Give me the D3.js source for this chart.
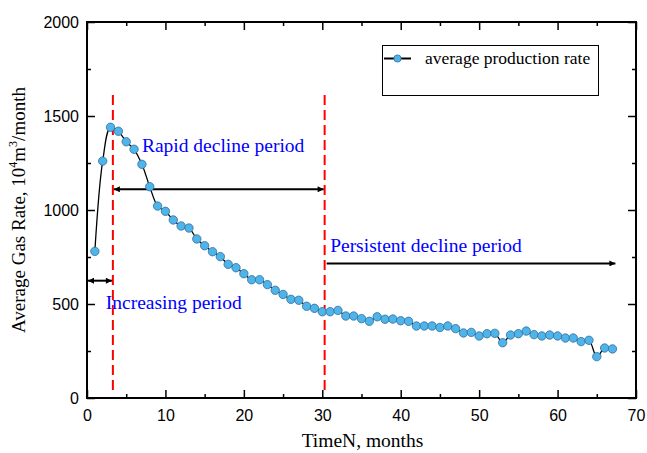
<!DOCTYPE html>
<html>
<head>
<meta charset="utf-8">
<script src="https://cdn.jsdelivr.net/npm/d3@7"></script>
<style>
  html, body { margin: 0; padding: 0; background: #fff; }
  svg { display: block; }
</style>
</head>
<body>
<svg id="chart" width="647" height="453"></svg>
<script>
// Monthly average gas production rate (10^4 m^3/month)
const months = [1,2,3,4,5,6,7,8,9,10,11,12,13,14,15,16,17,18,19,20,21,22,23,24,25,26,27,28,29,30,31,32,33,34,35,36,37,38,39,40,41,42,43,44,45,46,47,48,49,50,51,52,53,54,55,56,57,58,59,60,61,62,63,64,65,66,67];
const rates = [780,1260,1440,1419,1363,1323,1243,1124,1021,993,947,915,904,846,810,778,752,711,693,661,629,629,603,573,551,525,520,488,477,459,459,466,436,436,422,408,432,419,420,411,408,383,383,383,375,383,369,346,349,330,342,344,294,335,342,356,337,330,335,330,319,319,300,307,220,266,261];

// Axis settings
const xDomain = [0, 70];
const yDomain = [0, 2000];
const xMajorTicks = [0,10,20,30,40,50,60,70];
const xMinorTicks = [5,15,25,35,45,55,65];
const yMajorTicks = [0,500,1000,1500,2000];
const yMinorTicks = [250,750,1250,1750];

// Period boundaries (months) and annotation rows (rate values)
const boundaries = [3.3, 30.3];
const boundaryTop = 1612;
const increasingArrow = { from: 0, to: 3.3, at: 624 };
const rapidArrow = { from: 3.3, to: 30.3, at: 1110 };
const persistentArrow = { from: 30.3, to: 67.5, at: 716 };
const periodLabels = [
  { text: "Increasing period", t: 2.4, v: 473 },
  { text: "Rapid decline period", t: 7.0, v: 1307 },
  { text: "Persistent decline period", t: 31.0, v: 778 }
];

const svg = d3.select("#chart");
const plotLeft = 87, plotRight = 636, plotTop = 22, plotBottom = 398;

const x = d3.scaleLinear().domain(xDomain).range([plotLeft, plotRight]);
const y = d3.scaleLinear().domain(yDomain).range([plotBottom, plotTop]);

const serif = "'Liberation Serif', 'Times New Roman', serif";
const sans = "'Liberation Sans', Arial, sans-serif";

// Arrow markers
const defs = svg.append("defs");
defs.append("marker")
  .attr("id", "arrowEnd").attr("viewBox", "0 0 10 10")
  .attr("refX", 10).attr("refY", 5)
  .attr("markerWidth", 11).attr("markerHeight", 6)
  .attr("markerUnits", "userSpaceOnUse")
  .attr("orient", "auto")
  .append("path").attr("d", "M0,0 L10,5 L0,10 Z").attr("fill", "#000");
defs.append("marker")
  .attr("id", "arrowStart").attr("viewBox", "0 0 10 10")
  .attr("refX", 0).attr("refY", 5)
  .attr("markerWidth", 11).attr("markerHeight", 6)
  .attr("markerUnits", "userSpaceOnUse")
  .attr("orient", "auto")
  .append("path").attr("d", "M10,0 L0,5 L10,10 Z").attr("fill", "#000");

// Axes: ticks point inward on all four sides
function axisGroup(axis, transform) {
  const g = svg.append("g").attr("transform", transform).call(axis);
  g.select(".domain").remove();
  g.selectAll(".tick line").attr("stroke", "#000").attr("stroke-width", 1.5);
  return g;
}
const bottomMajor = d3.axisBottom(x).tickValues(xMajorTicks).tickSizeInner(-8).tickSizeOuter(0).tickPadding(12).tickFormat(d3.format("d"));
const gxb = axisGroup(bottomMajor, `translate(0,${plotBottom})`);
gxb.selectAll("text").attr("font-family", sans).attr("font-size", 16).attr("fill", "#000");
axisGroup(d3.axisBottom(x).tickValues(xMinorTicks).tickSizeInner(-4).tickSizeOuter(0).tickFormat(""), `translate(0,${plotBottom})`);
axisGroup(d3.axisTop(x).tickValues(xMajorTicks).tickSizeInner(-8).tickSizeOuter(0).tickFormat(""), `translate(0,${plotTop})`);
axisGroup(d3.axisTop(x).tickValues(xMinorTicks).tickSizeInner(-4).tickSizeOuter(0).tickFormat(""), `translate(0,${plotTop})`);

const leftMajor = d3.axisLeft(y).tickValues(yMajorTicks).tickSizeInner(-8).tickSizeOuter(0).tickPadding(8).tickFormat(d3.format("d"));
const gyl = axisGroup(leftMajor, `translate(${plotLeft},0)`);
gyl.selectAll("text").attr("font-family", sans).attr("font-size", 16).attr("fill", "#000");
axisGroup(d3.axisLeft(y).tickValues(yMinorTicks).tickSizeInner(-4).tickSizeOuter(0).tickFormat(""), `translate(${plotLeft},0)`);
axisGroup(d3.axisRight(y).tickValues(yMajorTicks).tickSizeInner(-8).tickSizeOuter(0).tickFormat(""), `translate(${plotRight},0)`);
axisGroup(d3.axisRight(y).tickValues(yMinorTicks).tickSizeInner(-4).tickSizeOuter(0).tickFormat(""), `translate(${plotRight},0)`);

// Frame
svg.append("rect")
  .attr("x", plotLeft).attr("y", plotTop)
  .attr("width", plotRight - plotLeft).attr("height", plotBottom - plotTop)
  .attr("fill", "none").attr("stroke", "#000").attr("stroke-width", 2);

// Axis titles
svg.append("text")
  .attr("x", (plotLeft + plotRight) / 2 + 1).attr("y", 447)
  .attr("text-anchor", "middle")
  .attr("font-family", serif).attr("font-size", 19.5)
  .text("TimeN, months");

const yTitle = svg.append("text")
  .attr("transform", `translate(25,210) rotate(-90)`)
  .attr("text-anchor", "middle")
  .attr("font-family", serif).attr("font-size", 19);
yTitle.append("tspan").text("Average Gas Rate, 10");
yTitle.append("tspan").attr("font-size", 12).attr("dy", -8).text("4");
yTitle.append("tspan").attr("dy", 8).text("m");
yTitle.append("tspan").attr("font-size", 12).attr("dy", -8).text("3");
yTitle.append("tspan").attr("dy", 8).text("/month");

// Period boundaries
svg.selectAll("line.boundary")
  .data(boundaries)
  .join("line")
  .attr("class", "boundary")
  .attr("x1", d => x(d)).attr("x2", d => x(d))
  .attr("y1", y(boundaryTop)).attr("y2", y(0) - 4)
  .attr("stroke", "#ff0000").attr("stroke-width", 2)
  .attr("stroke-dasharray", "10,5");

// Period arrows
function arrow(a, both) {
  const l = svg.append("line")
    .attr("x1", x(a.from) + (both ? 1 : 2)).attr("x2", x(a.to) - 1)
    .attr("y1", y(a.at)).attr("y2", y(a.at))
    .attr("stroke", "#000").attr("stroke-width", 2)
    .attr("marker-end", "url(#arrowEnd)");
  if (both) l.attr("marker-start", "url(#arrowStart)");
}
arrow(increasingArrow, true);
arrow(rapidArrow, true);
arrow(persistentArrow, false);

// Period labels
svg.selectAll("text.period")
  .data(periodLabels)
  .join("text")
  .attr("class", "period")
  .attr("x", d => x(d.t)).attr("y", d => y(d.v))
  .attr("font-family", serif).attr("font-size", 19.5)
  .attr("fill", "#0000ff")
  .text(d => d.text);

// Production curve
const pts = months.map((m, i) => [m, rates[i]]);
const line = d3.line()
  .x(d => x(d[0])).y(d => y(d[1]))
  .curve(d3.curveCatmullRom.alpha(0.5));
svg.append("path")
  .datum(pts)
  .attr("d", line)
  .attr("fill", "none").attr("stroke", "#000").attr("stroke-width", 1.3);

svg.selectAll("circle.pt")
  .data(pts)
  .join("circle")
  .attr("class", "pt")
  .attr("cx", d => x(d[0])).attr("cy", d => y(d[1]))
  .attr("r", 4.2)
  .attr("fill", "#4fb4ea").attr("stroke", "#2f6f9a").attr("stroke-width", 0.8);

// Legend
const lg = svg.append("g");
lg.append("rect")
  .attr("x", 382.5).attr("y", 45.5).attr("width", 216).attr("height", 50)
  .attr("fill", "#fff").attr("stroke", "#000").attr("stroke-width", 1);
lg.append("line")
  .attr("x1", 384).attr("x2", 411).attr("y1", 58.5).attr("y2", 58.5)
  .attr("stroke", "#000").attr("stroke-width", 2);
lg.append("circle")
  .attr("cx", 397.5).attr("cy", 58.5).attr("r", 3.6)
  .attr("fill", "#4fb4ea").attr("stroke", "#2f6f9a").attr("stroke-width", 0.8);
lg.append("text")
  .attr("x", 425).attr("y", 64)
  .attr("font-family", serif).attr("font-size", 17.5)
  .text("average production rate");
</script>
</body>
</html>
